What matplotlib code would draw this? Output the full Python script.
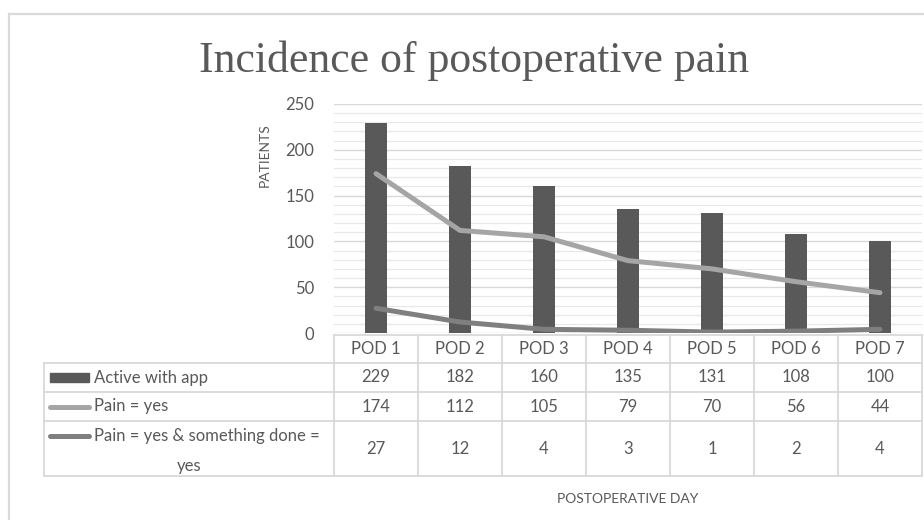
import numpy as np
import matplotlib.pyplot as plt
from matplotlib.lines import Line2D
from matplotlib.patches import Rectangle

days = ['POD 1', 'POD 2', 'POD 3', 'POD 4', 'POD 5', 'POD 6', 'POD 7']
active = [229, 182, 160, 135, 131, 108, 100]
pain = [174, 112, 105, 79, 70, 56, 44]
pain_done = [27, 12, 4, 3, 1, 2, 4]
series_names = ['Active with app', 'Pain = yes', 'Pain = yes & something done =\nyes']

W, H = 924, 520
bar_col = '#595959'
pain_col = '#a5a5a5'
done_col = '#7f7f7f'
txt_col = '#595959'
grid_col = '#d9d9d9'

plt.rcParams['font.family'] = ['Lato', 'DejaVu Sans']

fig = plt.figure(figsize=(W / 100, H / 100), dpi=100)


def fx(x):
    return x / W


def fy(y):
    return 1 - y / H


# chart border
fig.add_artist(Rectangle((fx(8.5), fy(560)), fx(960), fy(13.5) - fy(560),
                         transform=fig.transFigure, fill=False,
                         edgecolor='#d9d9d9', lw=1.6))

x0, x1, y0, y1 = 334, 922, 333, 104
ax = fig.add_axes([fx(x0), fy(y0), fx(x1 - x0), fy(y1) - fy(y0)])
x = np.arange(len(days))
ax.bar(x, active, 0.26, color=bar_col, zorder=3)
ax.plot(x, pain, color=pain_col, lw=3.6, solid_capstyle='round', zorder=4)
ax.plot(x, pain_done, color=done_col, lw=3.6, solid_capstyle='round', zorder=4)
ax.set_xlim(-0.5, len(days) - 0.5)
ax.set_ylim(0, 250)
ax.set_yticks(range(0, 251, 50))
ax.set_yticks(range(0, 251, 10), minor=True)
ax.grid(axis='y', which='major', color=grid_col, lw=1.0, zorder=0)
ax.grid(axis='y', which='minor', color='#e8e8e8', lw=0.9, zorder=0)
ax.set_xticks([])
for s in ax.spines.values():
    s.set_visible(False)
ax.tick_params(axis='y', which='both', length=0, labelsize=12, labelcolor=txt_col, pad=14)

fig.text(fx(265), fy(155), 'PATIENTS', rotation=90, ha='center', va='center',
         fontsize=10, color=txt_col)
fig.text(fx(474), fy(72), 'Incidence of postoperative pain', ha='center', va='baseline',
         fontsize=31.5, color=txt_col, family=['Liberation Serif', 'DejaVu Serif'])
fig.text(fx(628), fy(499), 'POSTOPERATIVE DAY', ha='center', va='center',
         fontsize=10, color=txt_col)

# data table
col_w = (x1 - x0) / len(days)
rows = [335, 363, 392, 421, 476]
tl = 44
fs = 12


def hline(y, xa, xb):
    fig.add_artist(Line2D([fx(xa), fx(xb)], [fy(y), fy(y)], color=grid_col, lw=1.3))


def vline(xv, ya, yb):
    fig.add_artist(Line2D([fx(xv), fx(xv)], [fy(ya), fy(yb)], color=grid_col, lw=1.3))


hline(rows[0], x0, x1)
for r in rows[1:]:
    hline(r, tl, x1)
vline(tl, rows[1], rows[-1])
for i in range(len(days) + 1):
    vline(x0 + i * col_w, rows[0], rows[-1])

for i, d in enumerate(days):
    fig.text(fx(x0 + (i + 0.5) * col_w), fy((rows[0] + rows[1]) / 2), d,
             ha='center', va='center', fontsize=fs, color=txt_col)

table_vals = [active, pain, pain_done]
for r, vals in enumerate(table_vals):
    yc = (rows[r + 1] + rows[r + 2]) / 2
    for i, v in enumerate(vals):
        fig.text(fx(x0 + (i + 0.5) * col_w), fy(yc), str(v),
                 ha='center', va='center', fontsize=fs, color=txt_col)

# legend keys + labels
y_r1 = (rows[1] + rows[2]) / 2
fig.add_artist(Rectangle((fx(50), fy(y_r1 + 4.5)), fx(39), fy(0) - fy(9),
                         transform=fig.transFigure, color=bar_col))
fig.text(fx(94), fy(y_r1), series_names[0], ha='left', va='center',
         fontsize=fs, color=txt_col)

y_r2 = (rows[2] + rows[3]) / 2
fig.add_artist(Line2D([fx(50), fx(89)], [fy(y_r2), fy(y_r2)], color=pain_col,
                      lw=3.6, solid_capstyle='round'))
fig.text(fx(94), fy(y_r2), series_names[1], ha='left', va='center',
         fontsize=fs, color=txt_col)

y_r3 = 436
fig.add_artist(Line2D([fx(50), fx(89)], [fy(y_r3), fy(y_r3)], color=done_col,
                      lw=3.6, solid_capstyle='round'))
first, second = series_names[2].split('\n')
fig.text(fx(94), fy(y_r3), first, ha='left', va='center', fontsize=fs, color=txt_col)
fig.text(fx(189), fy(466), second, ha='center', va='center', fontsize=fs, color=txt_col)

fig.savefig('out.png', dpi=100)
